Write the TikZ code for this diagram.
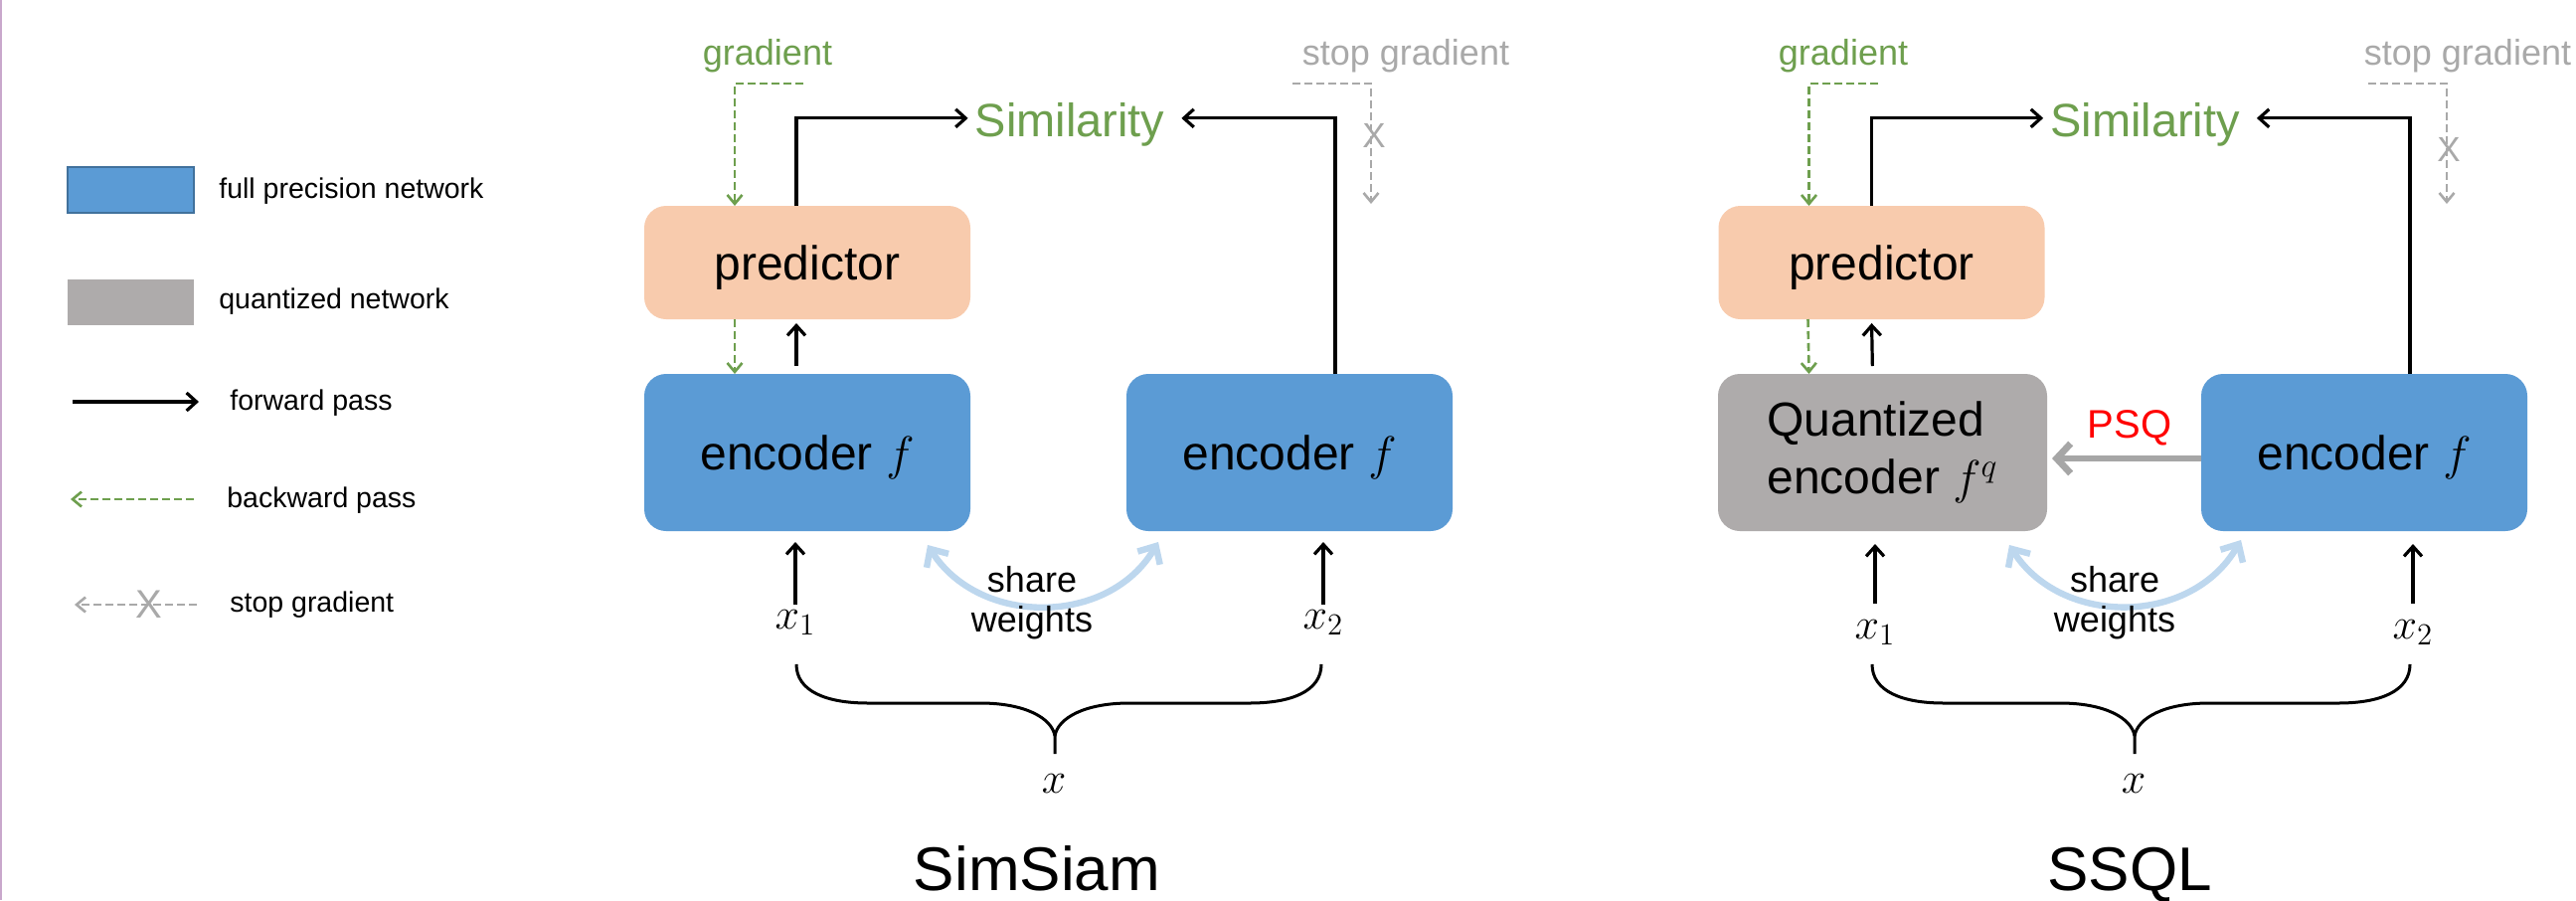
\RequirePackage{fix-cm}
\documentclass[tikz,border=0pt]{standalone}
\usepackage[no-math]{fontspec}
\setmainfont{Liberation Sans}
\usetikzlibrary{arrows.meta}

\definecolor{encblue}{HTML}{5B9BD5}
\definecolor{encblueedge}{HTML}{41719C}
\definecolor{predpeach}{HTML}{F8CBAD}
\definecolor{qgray}{HTML}{AEABAB}
\definecolor{gradgreen}{HTML}{6E9F4E}
\definecolor{stopgray}{HTML}{A9A9A9}
\definecolor{sharecol}{HTML}{BDD7EE}
\definecolor{psqgray}{HTML}{A6A6A6}
\definecolor{psqred}{HTML}{FF0000}
\definecolor{framepurple}{HTML}{C9A8CC}

% curly brace joining the two views x_1, x_2 into x
% #1 left end x, #2 right end x, #3 tip x
\newcommand\panelbrace[3]{%
  \draw[bracestyle] (#1,668) .. controls (#1,695) and (#1+30,707) .. (#1+72,707)
    -- (#3-75,707) .. controls (#3-30,707) and (#3-3,722) .. (#3,740) -- (#3,758);
  \draw[bracestyle] (#2,668) .. controls (#2,695) and (#2-30,707) .. (#2-72,707)
    -- (#3+75,707) .. controls (#3+30,707) and (#3+3,722) .. (#3,740);
}

\begin{document}
\begin{tikzpicture}[x=0.5pt,y=-0.5pt,
  box/.style={rounded corners=11pt, minimum width=164pt, inner sep=0pt, outer sep=0pt,
    font=\fontsize{24}{29}\selectfont},
  predbox/.style={box, fill=predpeach, minimum height=57pt, text depth=0pt},
  encbox/.style={box, fill=encblue, minimum height=79pt, text depth=0pt},
  quantbox/.style={box, fill=qgray, minimum height=79pt, minimum width=165.5pt, align=left},
  legbox/.style={minimum width=63.5pt, minimum height=23pt, inner sep=0pt},
  legtext/.style={inner sep=0pt, font=\fontsize{14.25}{17}\selectfont},
  lbl/.style={inner sep=0pt, anchor=base},
  gradtext/.style={lbl, text=gradgreen, font=\fontsize{18}{18}\selectfont},
  stoptext/.style={lbl, text=stopgray, font=\fontsize{18}{18}\selectfont},
  simtext/.style={anchor=base, text=gradgreen, font=\fontsize{23.5}{23.5}\selectfont},
  stopx/.style={inner sep=0pt, text=stopgray, font=\fontsize{17.5}{17.5}\selectfont},
  mathlbl/.style={lbl, font=\fontsize{22}{22}\selectfont},
  sharetext/.style={inner sep=0pt, align=center, font=\fontsize{18}{20}\selectfont},
  titletext/.style={lbl, font=\fontsize{31}{31}\selectfont},
  fwd/.style={draw=black, line width=1.6pt, -{Straight Barb[length=5pt,width=9pt]}},
  bwd/.style={draw=gradgreen, line width=1.3pt, dash pattern=on 4pt off 2pt,
    -{Straight Barb[length=4.5pt,width=7.5pt]}},
  stopg/.style={draw=stopgray, line width=1.3pt, dash pattern=on 4pt off 2pt,
    -{Straight Barb[length=4.5pt,width=7.5pt]}},
  sharearc/.style={draw=sharecol, line width=3.2pt,
    {Straight Barb[length=7pt,width=13pt]}-{Straight Barb[length=7pt,width=13pt]}},
  psqarrow/.style={draw=psqgray, line width=3.4pt, -{Straight Barb[length=7pt,width=15pt]}},
  bracestyle/.style={draw=black, line width=1.5pt}
]
\fill[white] (0,0) rectangle (2591,905);
\useasboundingbox (0,0) rectangle (2591,905);
\draw[framepurple, line width=1.2pt] (1,0) -- (1,905);

% ---------------- legend ----------------
\node[legbox, fill=encblue, draw=encblueedge, line width=1pt] (legfull) at (131.5,191) {};
\node[legbox, fill=qgray] (legquant) at (131.5,303.5) {};
\node[legtext, anchor=base west] (legfullt) at (220,199) {full precision network};
\node[legtext, anchor=base west] (legquantt) at (220,310) {quantized network};
\coordinate (lf1) at (73,404);
\coordinate (lf2) at (200,404);
\draw[fwd] (lf1) -- (lf2);
\node[legtext, anchor=base west] (legfwdt) at (231,412) {forward pass};
\coordinate (lb1) at (195,502);
\coordinate (lb2) at (71,502);
\draw[bwd] (lb1) -- (lb2);
\node[legtext, anchor=base west] (legbwdt) at (228,510) {backward pass};
\coordinate (ls1) at (198,608);
\coordinate (ls2) at (75,608);
\draw[stopg] (ls1) -- (ls2);
\node[stopx, font=\fontsize{20}{20}\selectfont] (legx) at (150,608) {X};
\node[legtext, anchor=base west] (legstopt) at (231,615) {stop gradient};

% ---------------- SimSiam ----------------
\node[gradtext] (gradA) at (772,65) {gradient};
\node[stoptext] (stopA) at (1414,65) {stop gradient};
\node[simtext] (simA) at (1076,137) {Similarity};
\node[predbox] (predA) at (812,264) {predictor};
\node[encbox] (encA) at (812,455) {encoder $f$};
\node[encbox] (encB) at (1297,455) {encoder $f$};

\coordinate (gA) at (808,84);
\draw[bwd] (gA) -| ([shift={(-73,0)}]predA.north);
\coordinate (sgA1) at (1300,84);
\coordinate (sgA2) at (1379,205);
\draw[stopg] (sgA1) -| (sgA2);
\node[stopx] (xA) at (1382,136) {X};

\draw[fwd] ([shift={(-11,0)}]predA.north) |- ([yshift=3pt]simA.west);
\draw[fwd, shorten >=5pt] ([shift={(46,0)}]encB.north) |- ([yshift=3pt]simA.east);
\draw[bwd] ([shift={(-73,0)}]predA.south) -- ([shift={(-73,0)}]encA.north);
\draw[fwd, shorten <=4pt, shorten >=2pt] ([shift={(-11,0)}]encA.north) -- ([shift={(-11,0)}]predA.south);

\node[mathlbl] (xoneA) at (800,632) {$x_1$};
\node[mathlbl] (xtwoA) at (1331,632) {$x_2$};
\draw[fwd, shorten <=2.5pt, shorten >=5.5pt] (xoneA.north) -- (xoneA.north |- encA.south);
\draw[fwd, shorten <=2.5pt, shorten >=5.5pt] (xtwoA.north) -- (xtwoA.north |- encB.south);

\coordinate (shA1) at ([shift={(-43,14)}]encA.south east);
\coordinate (shA2) at ([shift={(32,11)}]encB.south west);
\draw[sharearc] (shA1) .. controls +(52,82) and +(-50,85) .. (shA2);
\node[sharetext] (shareA) at (1038,606) {share\\weights};

\panelbrace{801}{1329}{1061}
\node[mathlbl] (xA0) at (1060,797) {$x$};
\node[titletext] (titleA) at (1043,895) {SimSiam};

% ---------------- SSQL ----------------
\node[gradtext] (gradB) at (1854,65) {gradient};
\node[stoptext] (stopB) at (2482,65) {stop gradient};
\node[simtext] (simB) at (2157.5,137) {Similarity};
\node[predbox] (predB) at (1892.5,264) {predictor};
\node[quantbox] (quant) at (1893.5,455) {Quantized\\encoder $f^q$};
\node[encbox] (encR) at (2378,455) {encoder $f$};

\coordinate (gB) at (1889,84);
\draw[bwd] (gB) -| ([shift={(-73,0)}]predB.north);
\coordinate (sgB1) at (2382,84);
\coordinate (sgB2) at (2461,205);
\draw[stopg] (sgB1) -| (sgB2);
\node[stopx] (xB) at (2463,150) {X};

\draw[fwd] ([shift={(-10,0)}]predB.north) |- ([yshift=3pt]simB.west);
\draw[fwd, shorten >=5pt] ([shift={(46,0)}]encR.north) |- ([yshift=3pt]simB.east);
\draw[bwd] ([shift={(-74,0)}]predB.south) -- ([shift={(-74,0)}]quant.north);
\draw[fwd, shorten <=4pt, shorten >=2pt] ([shift={(-10,0)}]quant.north) -- ([shift={(-10,0)}]predB.south);

\draw[psqarrow, shorten >=2.5pt] ([yshift=-3pt]encR.west) -- ([yshift=-3pt]quant.east);
\node[lbl, text=psqred, font=\fontsize{20}{20}\selectfont] (psq) at (2142,440) {PSQ};

\node[mathlbl] (xoneB) at (1886,642) {$x_1$};
\node[mathlbl] (xtwoB) at (2427,642) {$x_2$};
\draw[fwd, shorten <=8pt, shorten >=6.5pt] (xoneB.north) -- (xoneB.north |- quant.south);
\draw[fwd, shorten <=8pt, shorten >=6.5pt] (xtwoB.north) -- (xtwoB.north |- encR.south);

\coordinate (shB1) at ([shift={(-38,14)}]quant.south east);
\coordinate (shB2) at ([shift={(40,9)}]encR.south west);
\draw[sharearc] (shB1) .. controls +(52,82) and +(-50,87) .. (shB2);
\node[sharetext] (shareB) at (2127,606) {share\\weights};

\panelbrace{1883}{2424}{2147}
\node[mathlbl] (xB0) at (2146,797) {$x$};
\node[titletext] (titleB) at (2142,895) {SSQL};
\end{tikzpicture}
\end{document}
